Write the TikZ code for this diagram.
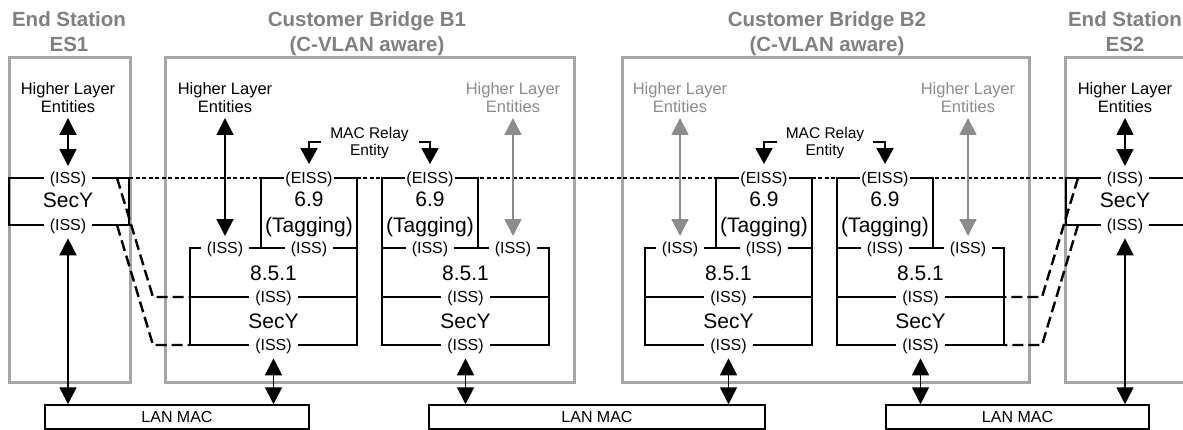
\documentclass[tikz,border=0pt]{standalone}
\usepackage{fontspec}
\setmainfont{Liberation Sans}
\usetikzlibrary{arrows.meta}

\definecolor{framegray}{RGB}{166,166,166}
\definecolor{titlegray}{RGB}{128,128,128}
\definecolor{softgray}{RGB}{140,140,140}

\tikzset{
  framebox/.style={draw=framegray, line width=3pt},
  wire/.style={draw=black, line width=2pt},
  sdash/.style={draw=black, line width=1.1pt, dash pattern=on 4pt off 2.5pt},
  ldash/.style={draw=black, line width=2.4pt, dash pattern=on 11pt off 5pt},
  titletext/.style={font=\fontsize{20.5}{25}\selectfont\bfseries, text=titlegray,
    align=center, anchor=south, inner sep=0pt, text depth=0pt},
  hle/.style={font=\fontsize{16.5}{18.5}\selectfont, align=center, anchor=south,
    inner sep=0pt, text depth=0pt},
  iss/.style={font=\fontsize{16}{19}\selectfont, fill=white, inner xsep=6pt,
    inner ysep=0pt, anchor=base, yshift=-5.8pt},
  eiss/.style={iss, inner xsep=1pt},
  bigtext/.style={font=\fontsize{21}{25}\selectfont, anchor=base, inner sep=0pt},
  relay/.style={font=\fontsize{15.5}{17.7}\selectfont, align=center, anchor=south,
    inner sep=0pt, text depth=0pt},
  lanbox/.style={draw=black, line width=1.5pt, minimum width=#1, minimum height=24pt,
    inner sep=0pt, font=\fontsize{16}{19}\selectfont},
  dblarrow/.style={line width=1.6pt,
    {Triangle[width=17pt,length=17pt]}-{Triangle[width=17pt,length=17pt]}},
  onearrow/.style={line width=2pt, -{Triangle[width=17pt,length=16pt]}},
}

% Bridge port: #1 name prefix, #2 left x of 8.5.1/SecY stack,
% #3 left x of the 6.9 tagging box, #4 x of the upper-layer ISS
\newcommand{\bridgeport}[4]{%
  \draw[wire] (#2,248) rectangle ({#2+167},345);
  \draw[wire] (#2,297) -- ({#2+167},297);
  \draw[wire] (#3,178) rectangle ({#3+96},248);
  \node[eiss] (#1eiss) at ({#3+48},178) {(EISS)};
  \node[bigtext] (#1num) at ({#3+48},207) {6.9};
  \node[bigtext] (#1tag) at ({#3+48},233) {(Tagging)};
  \node[iss] (#1tiss) at ({#3+48},248) {(ISS)};
  \node[iss] (#1hiss) at (#4,248) {(ISS)};
  \node[bigtext] (#1sec) at ({#2+83.5},280) {8.5.1};
  \node[iss] (#1miss) at ({#2+83.5},297) {(ISS)};
  \node[bigtext] (#1secy) at ({#2+83.5},328) {SecY};
  \node[iss] (#1biss) at ({#2+83.5},345) {(ISS)};
}

\begin{document}
\begin{tikzpicture}[x=1pt, y=-1pt]
\useasboundingbox (0,0) rectangle (1183,430);
\clip (0,0) rectangle (1183,430);

% station and bridge frames
\draw[framebox] (9,58) rectangle (130,382);
\draw[framebox] (165,58) rectangle (574,382);
\draw[framebox] (622,58) rectangle (1029,382);
\draw[framebox] (1195,58) -- (1065,58) -- (1065,382) -- (1195,382);

% titles
\node[titletext] (es1title) at (69,52) {End Station\\ES1};
\node[titletext] (b1title) at (367,52) {Customer Bridge B1\\(C-VLAN aware)};
\node[titletext] (b2title) at (827,52) {Customer Bridge B2\\(C-VLAN aware)};
\node[titletext] (es2title) at (1125,52) {End Station\\ES2};

% EISS level running through both bridges
\draw[sdash] (129,178) -- (1066,178);

% end station SecY blocks
\draw[wire] (9,178) rectangle (129,225);
\draw[wire] (1195,178) -- (1066,178) -- (1066,225) -- (1195,225);
\node[iss] (es1top) at (68,178) {(ISS)};
\node[bigtext] (es1secy) at (68,208) {SecY};
\node[iss] (es1bot) at (68,225) {(ISS)};
\node[iss] (es2top) at (1125,178) {(ISS)};
\node[bigtext] (es2secy) at (1125,208) {SecY};
\node[iss] (es2bot) at (1125,225) {(ISS)};

% bridge ports
\bridgeport{b1L}{190}{261}{225}
\bridgeport{b1R}{382}{382}{513}
\bridgeport{b2L}{645}{716}{680}
\bridgeport{b2R}{837}{837}{968}

% links between end station SecY and the bridge ports
\coordinate (es1a) at (117,178); \coordinate (es1ak) at (153,297);
\coordinate (es1b) at (117,225); \coordinate (es1bk) at (153,345);
\coordinate (b1La) at (190,297); \coordinate (b1Lb) at (190,345);
\draw[ldash] (es1a) -- (es1ak) -- (b1La);
\draw[ldash] (es1b) -- (es1bk) -- (b1Lb);
\coordinate (es2a) at (1078,178); \coordinate (es2ak) at (1042,297);
\coordinate (es2b) at (1078,225); \coordinate (es2bk) at (1042,345);
\coordinate (b2Ra) at (1004,297); \coordinate (b2Rb) at (1004,345);
\draw[ldash] (es2a) -- (es2ak) -- (b2Ra);
\draw[ldash] (es2b) -- (es2bk) -- (b2Rb);

% higher layer entities
\node[hle] (es1hle) at (68,113) {Higher Layer\\Entities};
\node[hle] (b1Lhle) at (225,113) {Higher Layer\\Entities};
\node[hle, text=softgray] (b1Rhle) at (513,113) {Higher Layer\\Entities};
\node[hle, text=softgray] (b2Lhle) at (680,113) {Higher Layer\\Entities};
\node[hle, text=softgray] (b2Rhle) at (968,113) {Higher Layer\\Entities};
\node[hle] (es2hle) at (1125,113) {Higher Layer\\Entities};

\draw[dblarrow, shorten <=5pt, shorten >=6pt] (es1hle.south) -- (es1top.north);
\draw[dblarrow, shorten <=5pt, shorten >=6pt] (b1Lhle.south) -- (b1Lhiss.north);
\draw[dblarrow, draw=softgray, shorten <=5pt, shorten >=6pt] (b1Rhle.south) -- (b1Rhiss.north);
\draw[dblarrow, draw=softgray, shorten <=5pt, shorten >=6pt] (b2Lhle.south) -- (b2Lhiss.north);
\draw[dblarrow, draw=softgray, shorten <=5pt, shorten >=6pt] (b2Rhle.south) -- (b2Rhiss.north);
\draw[dblarrow, shorten <=5pt, shorten >=6pt] (es2hle.south) -- (es2top.north);

% MAC relay entities
\node[relay] (relay1) at (369.5,156) {MAC Relay\\Entity};
\node[relay] (relay2) at (825,156) {MAC Relay\\Entity};
\coordinate (relay1l) at (320.5,141.7);
\coordinate (relay1r) at (418.5,141.7);
\coordinate (relay2l) at (777,141.7);
\coordinate (relay2r) at (873,141.7);
\draw[onearrow, shorten >=8pt] (relay1l) -| (b1Leiss.north);
\draw[onearrow, shorten >=8pt] (relay1r) -| (b1Reiss.north);
\draw[onearrow, shorten >=8pt] (relay2l) -| (b2Leiss.north);
\draw[onearrow, shorten >=8pt] (relay2r) -| (b2Reiss.north);

% LANs
\node[lanbox=264pt] (lan1) at (177,417) {LAN MAC};
\node[lanbox=336pt] (lan2) at (597,417) {LAN MAC};
\node[lanbox=263pt] (lan3) at (1017.5,417) {LAN MAC};

\draw[dblarrow, shorten <=4pt] (es1bot.south) -- (es1bot.south |- lan1.north);
\draw[dblarrow, shorten <=4pt] (b1Lbiss.south) -- (b1Lbiss.south |- lan1.north);
\draw[dblarrow, shorten <=4pt] (b1Rbiss.south) -- (b1Rbiss.south |- lan2.north);
\draw[dblarrow, shorten <=4pt] (b2Lbiss.south) -- (b2Lbiss.south |- lan2.north);
\draw[dblarrow, shorten <=4pt] (b2Rbiss.south) -- (b2Rbiss.south |- lan3.north);
\draw[dblarrow, shorten <=4pt] (es2bot.south) -- (es2bot.south |- lan3.north);
\end{tikzpicture}
\end{document}
